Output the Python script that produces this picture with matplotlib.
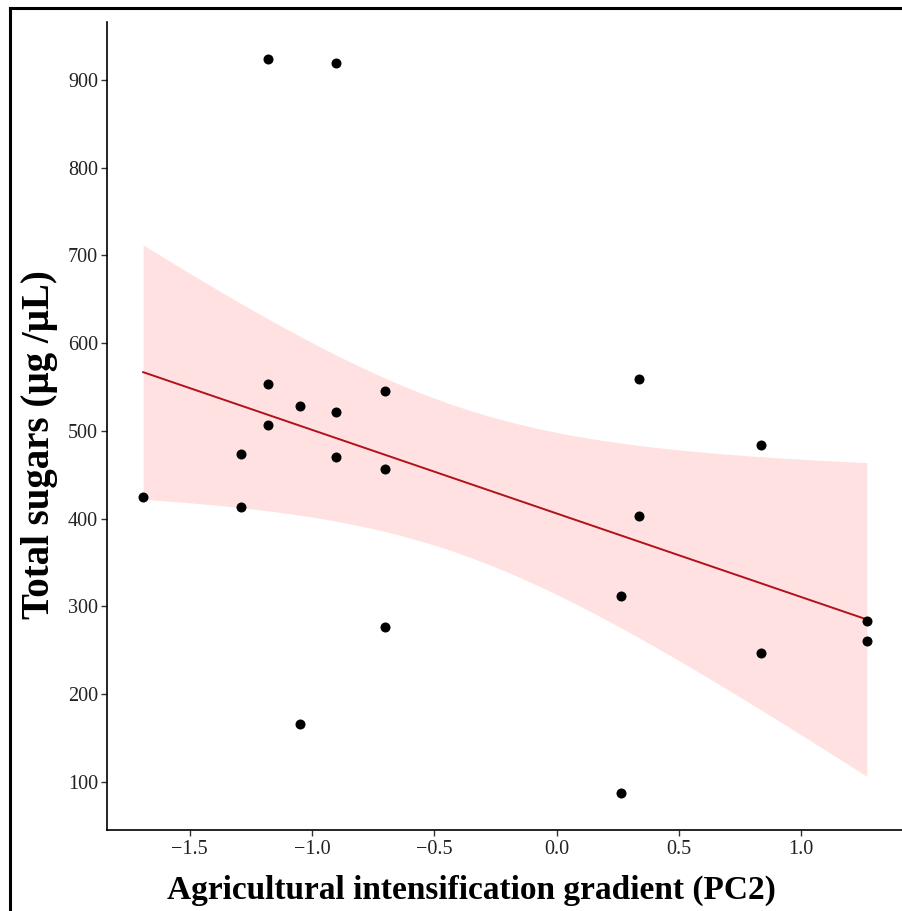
import numpy as np
import matplotlib
matplotlib.use("Agg")
import matplotlib.pyplot as plt
from matplotlib.lines import Line2D

# ---- data ----
pc2 = [-1.69, -1.29, -1.29, -1.18, -1.18, -1.18, -1.05, -1.05, -0.90, -0.90, -0.90,
       -0.70, -0.70, -0.70, 0.265, 0.265, 0.335, 0.335, 0.835, 0.835, 1.268, 1.268]
sugars = [425, 474, 413, 924, 553, 507, 528, 166, 919, 522, 470,
          545, 456, 277, 312, 87, 559, 403, 484, 247, 283, 261]
x_ticks = [-1.5, -1.0, -0.5, 0.0, 0.5, 1.0]
x_ticklabels = ["\u22121.5", "\u22121.0", "\u22120.5", "0.0", "0.5", "1.0"]
y_ticks = [100, 200, 300, 400, 500, 600, 700, 800, 900]
x_title = "Agricultural intensification gradient (PC2)"
y_title = "Total sugars (\u00b5g /\u00b5L)"

plt.rcParams['font.family'] = ['Liberation Serif', 'DejaVu Serif']

x = np.asarray(pc2, float)
y = np.asarray(sugars, float)
n = len(x)

# linear model + 95% confidence band (as geom_smooth(method="lm"))
xm, ym = x.mean(), y.mean()
sxx = ((x - xm) ** 2).sum()
slope = ((x - xm) * (y - ym)).sum() / sxx
icpt = ym - slope * xm
resid = y - (icpt + slope * x)
s = np.sqrt((resid ** 2).sum() / (n - 2))
t_crit = 2.086  # t(0.975, df=20)
xg = np.linspace(x.min(), x.max(), 80)
yg = icpt + slope * xg
se = s * np.sqrt(1.0 / n + (xg - xm) ** 2 / sxx)

fig = plt.figure(figsize=(9.03, 9.11), dpi=100)
ax = fig.add_axes([107 / 903, 1 - 830 / 911, 1 - 107 / 903, (830 - 22) / 911])

ax.fill_between(xg, yg - t_crit * se, yg + t_crit * se, color='#FFE1E1', linewidth=0, zorder=1)
ax.plot(xg, yg, color='#B0121B', linewidth=1.4, zorder=2)
ax.scatter(x, y, s=52, color='black', linewidths=0, zorder=3)

xr = x.max() - x.min()
yr = y.max() - y.min()
ax.set_xlim(x.min() - 0.05 * xr, x.max() + 0.05 * xr)
ax.set_ylim(y.min() - 0.05 * yr, y.max() + 0.05 * yr)

ax.set_xticks(x_ticks)
ax.set_xticklabels(x_ticklabels)
ax.set_yticks(y_ticks)

for side in ['top', 'right']:
    ax.spines[side].set_visible(False)
for side in ['left', 'bottom']:
    ax.spines[side].set_linewidth(1.2)
    ax.spines[side].set_color('black')

ax.tick_params(axis='both', length=4, width=1.0, color='#333333',
               labelsize=14.5, labelcolor='#222222')
ax.tick_params(axis='x', pad=3)
ax.tick_params(axis='y', pad=2.5)

ax.set_xlabel(x_title, fontsize=24, fontweight='bold')
ax.set_ylabel(y_title, fontsize=28, fontweight='bold')
ax.xaxis.set_label_coords((471.5 - 107) / 796, (830 - 875) / 808)
ax.yaxis.set_label_coords((58 - 107) / 796, (830 - 445) / 808)

# figure border (only top and left edges are visible in the reference)
bx = 10 / 903
by = 1 - 8 / 911
fig.add_artist(Line2D([bx, bx], [0, by], transform=fig.transFigure, color='black', linewidth=2.2))
fig.add_artist(Line2D([bx, 1], [by, by], transform=fig.transFigure, color='black', linewidth=2.2))

fig.savefig("out.png", dpi=100)
